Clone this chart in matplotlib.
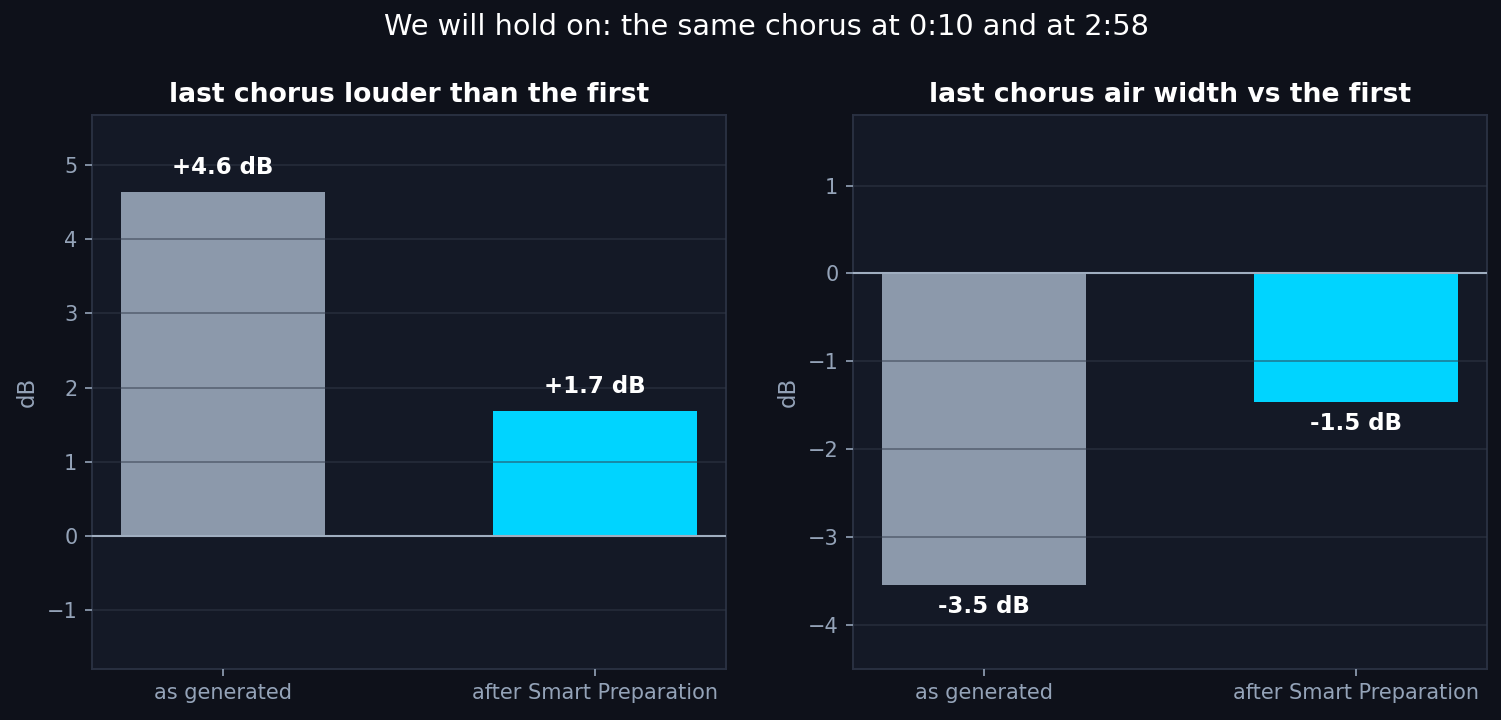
import matplotlib
matplotlib.use("Agg")
import matplotlib.pyplot as plt

# values
categories = ["as generated", "after Smart Preparation"]
loudness_db = [4.63, 1.68]
air_width_db = [-3.54, -1.46]
value_labels_left = ["+4.6 dB", "+1.7 dB"]
value_labels_right = ["-3.5 dB", "-1.5 dB"]
bar_colors = ["#8c99ab", "#00d4ff"]

fig_bg = "#0e111a"
ax_bg = "#141926"
tick_col = "#94a3b8"
spine_col = "#2a3142"

fig, axes = plt.subplots(1, 2, figsize=(10.007, 4.8), dpi=150)
fig.patch.set_facecolor(fig_bg)
fig.subplots_adjust(left=0.0613, right=0.9907, top=0.84, bottom=0.071, wspace=0.2)


def draw(ax, vals, labels, title, ylim):
    ax.set_facecolor(ax_bg)
    x = range(len(categories))
    ax.bar(x, vals, width=0.55, color=bar_colors, zorder=2)
    ax.set_ylim(*ylim)
    ax.grid(axis="y", color="#323a4a", alpha=0.5, linewidth=0.9, zorder=3)
    ax.set_axisbelow(False)
    ax.axhline(0, color="#a0aec0", linewidth=1.0, zorder=4)
    for i, v in enumerate(vals):
        off = 12 if v >= 0 else -10.5
        ax.annotate(labels[i], (i, v), xytext=(0, off), textcoords="offset points",
                    ha="center", va="center", color="white", fontsize=11,
                    fontweight="bold", zorder=5)
    ax.set_xticks(list(x))
    ax.set_xticklabels(categories)
    ax.set_ylabel("dB", color=tick_col, fontsize=11)
    ax.set_title(title, color="white", fontsize=12.75, fontweight="bold", pad=6.5)
    ax.tick_params(colors=tick_col, labelsize=10)
    for s in ax.spines.values():
        s.set_color(spine_col)
        s.set_linewidth(0.9)


draw(axes[0], loudness_db, value_labels_left,
     "last chorus louder than the first", (-1.79, 5.67))
draw(axes[1], air_width_db, value_labels_right,
     "last chorus air width vs the first", (-4.5, 1.8))

fig.suptitle("We will hold on: the same chorus at 0:10 and at 2:58",
             color="white", fontsize=13.8, x=0.5107, y=0.9625, va="center")

fig.savefig("out.png", dpi=150, facecolor=fig_bg)
